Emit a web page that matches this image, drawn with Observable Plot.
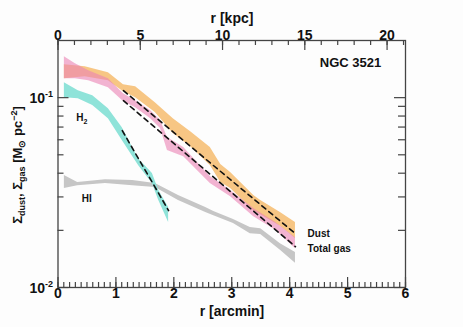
<!DOCTYPE html>
<html><head><meta charset="utf-8">
<script src="https://cdn.jsdelivr.net/npm/d3@7"></script>
<script src="https://cdn.jsdelivr.net/npm/@observablehq/plot@0.6"></script>
<style>
body{margin:0;background:#fdfdfd;}
svg{font-family:"Liberation Sans",Arial,Helvetica,sans-serif;}
</style>
</head><body><div id="chart"></div>
<script>
// Dust surface density band (arcmin, lower, upper) [Msun pc^-2]
const dustR  = [0.11, 0.47, 0.87, 1.13, 1.34, 1.68, 1.99, 2.29, 2.63, 2.81, 2.98, 3.38, 3.50, 3.84, 4.10];
const dustHi = [0.149, 0.1456, 0.1354, 0.1170, 0.1143, 0.0941, 0.0775, 0.0662, 0.0546, 0.0444, 0.0403, 0.0305, 0.0287, 0.0248, 0.0220];
const dustLo = [0.1259, 0.129, 0.1229, 0.1075, 0.100, 0.0834, 0.0647, 0.0552, 0.0439, 0.0357, 0.0332, 0.0254, 0.0242, 0.0210, 0.0181];
// Total gas band
const gasR  = [0.11, 0.30, 0.53, 0.87, 1.13, 1.34, 1.60, 1.77, 1.89, 2.17, 2.63, 2.98, 3.38, 3.76, 4.10];
const gasHi = [0.1644, 0.151, 0.1387, 0.1259, 0.1050, 0.0964, 0.0854, 0.0757, 0.0616, 0.0546, 0.0384, 0.0324, 0.0261, 0.0220, 0.0183];
const gasLo = [0.1259, 0.1259, 0.1229, 0.1129, 0.0953, 0.0886, 0.0775, 0.0687, 0.0526, 0.0489, 0.0353, 0.0301, 0.0236, 0.0200, 0.0160];
// H2 band
const h2R  = [0.11, 0.35, 0.60, 0.87, 1.11, 1.39, 1.63, 1.74, 1.91];
const h2Hi = [0.1199, 0.1088, 0.1024, 0.0875, 0.0695, 0.0477, 0.0398, 0.0324, 0.0264];
const h2Lo = [0.100, 0.0988, 0.0908, 0.0775, 0.0594, 0.0439, 0.0353, 0.0287, 0.0220];
// HI band
const hiR  = [0.11, 0.34, 0.82, 1.29, 1.68, 2.08, 2.55, 2.69, 3.03, 3.32, 3.50, 3.84, 4.10];
const hiHi = [0.0389, 0.0357, 0.0370, 0.0366, 0.0353, 0.0305, 0.0264, 0.0251, 0.0228, 0.0207, 0.0204, 0.0170, 0.0153];
const hiLo = [0.0332, 0.0344, 0.0353, 0.0344, 0.0336, 0.0287, 0.0248, 0.0239, 0.0217, 0.0192, 0.0190, 0.0157, 0.0134];
// Exponential fits (end points)
const dustFitR = [1.13, 4.10], dustFitV = [0.1088, 0.0192];
const gasFitR  = [1.13, 4.10], gasFitV  = [0.0964, 0.0164];
const h2FitR   = [1.11, 1.91], h2FitV   = [0.0670, 0.0254];
// Axes
const xMajor = [0, 1, 2, 3, 4, 5, 6];
const xMinor = d3.range(0, 6.001, 0.1);
const kpcPerArcmin = 3.52;
const kpcMajor = [0, 5, 10, 15, 20];
const kpcMinor = d3.range(0, 22, 1);
const yMajor = [0.01, 0.1];
const yMinor = [0.02, 0.03, 0.04, 0.05, 0.06, 0.07, 0.08, 0.09];
const yLabels = [{v: 0.1, exp: "-1"}, {v: 0.01, exp: "-2"}];
// Annotations
const notes = [
  {x: 4.52, y: 0.1528, t: "NGC 3521", size: 13},
  {x: 4.31, y: 0.0192, t: "Dust", size: 10},
  {x: 4.31, y: 0.0160, t: "Total gas", size: 10},
  {x: 0.41, y: 0.0292, t: "HI", size: 10}
];
const h2Label = {x: 0.42, y: 0.0785};

const rows = (r, lo, hi) => r.map((x, i) => ({x, lo: lo[i], hi: hi[i]}));
const fit = (r, v) => r.map((x, i) => ({x, y: v[i]}));

const W = 463, H = 327, ML = 57.5, MR = 58, MT = 40, MB = 40;
const FW = W - ML - MR, FH = H - MT - MB;
const axisColor = "#444";
const tk = {stroke: axisColor, strokeWidth: 1.2};

const plot = Plot.plot({
  width: W, height: H,
  marginLeft: ML, marginRight: MR, marginTop: MT, marginBottom: MB,
  x: {domain: [0, 6], axis: null},
  y: {type: "log", domain: [0.01, 0.2], axis: null},
  style: {background: "transparent", fontFamily: "Liberation Sans, Arial, sans-serif", fontWeight: "bold", color: "#111"},
  marks: [
    Plot.areaY(rows(hiR, hiLo, hiHi), {x: "x", y1: "lo", y2: "hi", fill: "#c6c6c6"}),
    Plot.areaY(rows(h2R, h2Lo, h2Hi), {x: "x", y1: "lo", y2: "hi", fill: "#8fe3d9"}),
    Plot.areaY(rows(dustR, dustLo, dustHi), {x: "x", y1: "lo", y2: "hi", fill: "#f5b865", fillOpacity: 0.8}),
    Plot.areaY(rows(gasR, gasLo, gasHi), {x: "x", y1: "lo", y2: "hi", fill: "#eb82b4", fillOpacity: 0.6}),
    Plot.line(fit(dustFitR, dustFitV), {x: "x", y: "y", stroke: "#111", strokeWidth: 1.6, strokeDasharray: "5,4"}),
    Plot.line(fit(gasFitR, gasFitV), {x: "x", y: "y", stroke: "#111", strokeWidth: 1.6, strokeDasharray: "5,4"}),
    Plot.line(fit(h2FitR, h2FitV), {x: "x", y: "y", stroke: "#111", strokeWidth: 1.6, strokeDasharray: "5,4"}),
    // bottom ticks (inward)
    Plot.tickX(xMinor, {x: d => d, insetTop: FH - 5, ...tk}),
    Plot.tickX(xMajor, {x: d => d, insetTop: FH - 10, ...tk}),
    // top ticks (kpc)
    Plot.tickX(kpcMinor, {x: k => k / kpcPerArcmin, insetBottom: FH - 5, ...tk}),
    Plot.tickX(kpcMajor, {x: k => k / kpcPerArcmin, insetBottom: FH - 10, ...tk}),
    // left / right ticks
    Plot.tickY(yMinor, {y: d => d, insetRight: FW - 6, ...tk}),
    Plot.tickY(yMajor, {y: d => d, insetRight: FW - 11, ...tk}),
    Plot.tickY(yMinor, {y: d => d, insetLeft: FW - 7, ...tk}),
    Plot.tickY(yMajor, {y: d => d, insetLeft: FW - 11, ...tk}),
    Plot.frame({stroke: axisColor, strokeWidth: 1.3}),
    // tick labels
    Plot.text(xMajor, {x: d => d, frameAnchor: "bottom", dy: 10, text: d => String(d), fontSize: 14, fontWeight: "bold", fill: "#111"}),
    Plot.text(kpcMajor, {x: k => k / kpcPerArcmin, frameAnchor: "top", dy: -10, text: k => String(k), fontSize: 14, fontWeight: "bold", fill: "#111"}),
    Plot.text(notes, {x: "x", y: "y", text: "t", fontSize: "size", textAnchor: "start", fontWeight: "bold", fill: "#111"})
  ]
});

const svg = d3.select(plot);
const sx = plot.scale("x"), sy = plot.scale("y");
// axis titles
svg.append("text").attr("x", 232).attr("y", 23).attr("text-anchor", "middle")
  .attr("font-size", 14).attr("font-weight", "bold").attr("fill", "#111").text("r [kpc]");
svg.append("text").attr("x", 232).attr("y", 316).attr("text-anchor", "middle")
  .attr("font-size", 14).attr("font-weight", "bold").attr("fill", "#111").text("r [arcmin]");
// y tick labels with superscripts
for (const d of yLabels) {
  const t = svg.append("text").attr("x", 53).attr("y", sy.apply(d.v) + 6)
    .attr("text-anchor", "end").attr("font-size", 14).attr("font-weight", "bold").attr("fill", "#111");
  t.append("tspan").text("10");
  t.append("tspan").attr("dy", -6).attr("font-size", 9).text(d.exp);
}
// y title
const yt = svg.append("text").attr("transform", "translate(22,165) rotate(-90)")
  .attr("text-anchor", "middle").attr("font-size", 13).attr("font-weight", "bold").attr("fill", "#111");
yt.append("tspan").text("Σ");
yt.append("tspan").attr("font-size", 9).attr("dy", 3).text("dust");
yt.append("tspan").attr("dy", -3).text(", Σ");
yt.append("tspan").attr("font-size", 9).attr("dy", 3).text("gas");
yt.append("tspan").attr("dy", -3).text(" [M");
yt.append("tspan").attr("font-size", 9).attr("dy", 3).text("⊙");
yt.append("tspan").attr("dy", -3).text(" pc");
yt.append("tspan").attr("font-size", 9).attr("dy", -5).text("−2");
yt.append("tspan").attr("dy", 5).text("]");
// H2 label
const h2 = svg.append("text").attr("x", sx.apply(h2Label.x)).attr("y", sy.apply(h2Label.y) + 4)
  .attr("font-size", 10).attr("font-weight", "bold").attr("fill", "#111");
h2.append("tspan").text("H");
h2.append("tspan").attr("font-size", 7).attr("dy", 3).text("2");

document.getElementById("chart").appendChild(plot);
</script>
</body></html>
